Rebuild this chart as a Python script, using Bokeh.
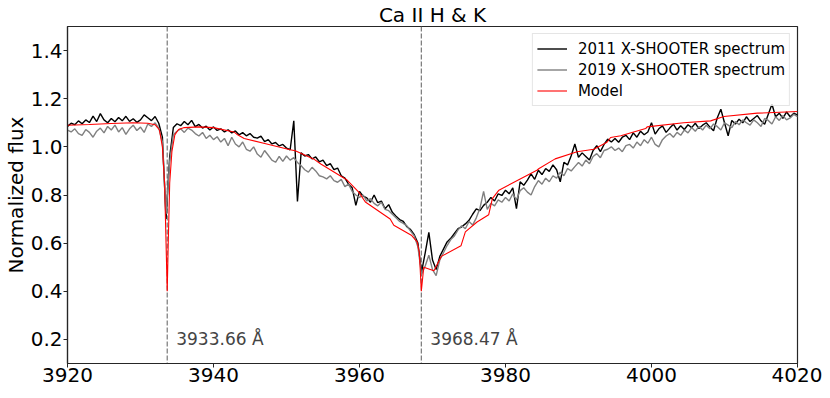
import numpy as np
from bokeh.plotting import figure
from bokeh.models import Range1d, FixedTicker, Span, Label, PrintfTickFormatter, ColumnDataSource
from bokeh.embed import file_html
from bokeh.resources import INLINE

# ---- data ----
wave_start, wave_stop, wave_step = 3920.0, 4020.0, 0.5

flux_2011 = [
    1.085, 1.098, 1.092, 1.108, 1.096, 1.112, 1.101, 1.128, 1.105, 1.138,
    1.112, 1.100, 1.118, 1.104, 1.122, 1.108, 1.127, 1.106, 1.117, 1.102,
    1.112, 1.133, 1.121, 1.109, 1.126, 1.098, 1.040, 0.700, 0.960, 1.080,
    1.096, 1.088, 1.105, 1.092, 1.110, 1.084, 1.093, 1.078, 1.086, 1.070,
    1.083, 1.068, 1.075, 1.062, 1.071, 1.058, 1.066, 1.050, 1.059, 1.046,
    1.055, 1.040, 1.036, 1.045, 1.022, 1.030, 1.012, 1.018, 1.004, 1.010,
    0.995, 0.988, 1.108, 0.773, 0.975, 0.962, 0.968, 0.950, 0.958, 0.938,
    0.945, 0.922, 0.930, 0.905, 0.912, 0.880, 0.870, 0.845, 0.830, 0.757,
    0.815, 0.795, 0.788, 0.770, 0.800, 0.768, 0.775, 0.743, 0.760, 0.728,
    0.712, 0.698, 0.690, 0.668, 0.656, 0.635, 0.600, 0.480, 0.560, 0.645,
    0.530, 0.490, 0.545, 0.575, 0.605, 0.620, 0.640, 0.660, 0.668, 0.680,
    0.695, 0.720, 0.742, 0.735, 0.757, 0.770, 0.790, 0.775, 0.805, 0.798,
    0.820, 0.805, 0.830, 0.743, 0.855, 0.840, 0.862, 0.888, 0.865, 0.903,
    0.885, 0.910, 0.898, 0.925, 0.905, 0.855, 0.936, 0.925, 0.963, 1.012,
    0.957, 0.975, 0.960, 0.945, 0.985, 1.005, 0.980, 1.010, 1.032, 1.020,
    1.035, 1.019, 1.040, 1.048, 1.030, 1.058, 1.040, 1.065, 1.050, 1.062,
    1.100, 1.053, 1.075, 1.087, 1.060, 1.078, 1.094, 1.070, 1.088, 1.072,
    1.092, 1.080, 1.098, 1.076, 1.090, 1.100, 1.082, 1.067, 1.120, 1.156,
    1.100, 1.046, 1.110, 1.095, 1.115, 1.100, 1.125, 1.105, 1.118, 1.130,
    1.108, 1.094, 1.135, 1.177, 1.125, 1.140, 1.118, 1.145, 1.125, 1.140,
    1.132,
]

flux_2019 = [
    1.070, 1.062, 1.075, 1.055, 1.048, 1.072, 1.060, 1.040, 1.065, 1.078,
    1.058, 1.085, 1.070, 1.090, 1.062, 1.080, 1.052, 1.075, 1.090, 1.068,
    1.082, 1.060, 1.095, 1.085, 1.100, 1.078, 1.020, 0.720, 0.940, 1.050,
    1.065, 1.075, 1.060, 1.078, 1.070, 1.055, 1.045, 1.060, 1.035, 1.048,
    1.030, 1.042, 1.020, 1.035, 1.005, 1.040, 1.012, 1.000, 1.020, 0.990,
    0.982, 1.000, 0.970, 0.957, 0.985, 0.965, 0.945, 0.936, 0.960, 0.940,
    0.962, 0.945, 0.955, 0.935, 0.922, 0.905, 0.895, 0.915, 0.900, 0.880,
    0.875, 0.867, 0.880, 0.860, 0.853, 0.865, 0.835, 0.845, 0.815, 0.800,
    0.790, 0.800, 0.775, 0.785, 0.765, 0.755, 0.770, 0.740, 0.735, 0.720,
    0.705, 0.690, 0.682, 0.672, 0.650, 0.630, 0.585, 0.470, 0.505, 0.550,
    0.490, 0.465, 0.530, 0.560, 0.590, 0.615, 0.630, 0.655, 0.672, 0.660,
    0.690, 0.675, 0.705, 0.745, 0.815, 0.740, 0.765, 0.755, 0.780, 0.770,
    0.790, 0.775, 0.805, 0.780, 0.818, 0.830, 0.812, 0.800, 0.835, 0.860,
    0.845, 0.870, 0.855, 0.880, 0.870, 0.895, 0.880, 0.910, 0.900, 0.918,
    0.935, 0.920, 0.945, 0.930, 0.960, 0.972, 0.955, 0.985, 0.990, 1.000,
    0.985, 0.995, 0.980, 1.005, 1.010, 0.995, 1.020, 1.005, 1.030, 1.015,
    1.040, 1.010, 1.000, 1.030, 1.045, 1.055, 1.040, 1.060, 1.048, 1.070,
    1.058, 1.080, 1.065, 1.085, 1.070, 1.090, 1.075, 1.095, 1.085, 1.070,
    1.100, 1.090, 1.080, 1.105, 1.092, 1.112, 1.100, 1.090, 1.112, 1.100,
    1.085, 1.118, 1.110, 1.095, 1.125, 1.110, 1.130, 1.112, 1.120, 1.135,
    1.125,
]

model_wave = [
    3920, 3923, 3926, 3929, 3931, 3932, 3932.6, 3933.0, 3933.3, 3933.5,
    3933.66, 3933.8, 3934.0, 3934.3, 3934.7, 3935.2, 3936, 3938, 3940, 3942.8,
    3943.3, 3944.2, 3947.3, 3950.5, 3951.2, 3953.7, 3954.7, 3958.3, 3959.9, 3960.8,
    3964.2, 3964.7, 3967.1, 3967.9, 3968.2, 3968.47, 3968.8, 3970.2, 3971.2, 3973.9,
    3974.5, 3976.1, 3977.7, 3978.2, 3979.1, 3984.3, 3984.6, 3986.8, 3989.8, 3992.1,
    3993.9, 3994.4, 3995.8, 3999.2, 3999.4, 4004.4, 4008.1, 4009.9, 4014.5, 4020,
]
model_flux = [
    1.090, 1.093, 1.097, 1.100, 1.098, 1.092, 1.070, 1.000, 0.850, 0.600,
    0.400, 0.600, 0.850, 0.980, 1.050, 1.072, 1.080, 1.083, 1.080, 1.062,
    1.050, 1.035, 1.012, 0.988, 0.984, 0.950, 0.929, 0.862, 0.812, 0.771,
    0.700, 0.674, 0.633, 0.605, 0.560, 0.400, 0.500, 0.485, 0.545, 0.589,
    0.647, 0.688, 0.718, 0.785, 0.820, 0.903, 0.910, 0.950, 0.980, 0.990,
    1.019, 1.039, 1.046, 1.076, 1.083, 1.100, 1.108, 1.126, 1.140, 1.147,
]

line_centers = [3933.66, 3968.47]
x_ticks = [3920, 3940, 3960, 3980, 4000, 4020]
y_ticks = [0.2, 0.4, 0.6, 0.8, 1.0, 1.2, 1.4]

wave = np.round(np.arange(wave_start, wave_stop + wave_step / 2, wave_step), 2)
assert len(wave) == len(flux_2011) == len(flux_2019)

FONT = "DejaVu Sans"
AXC = "#262626"

p = figure(frame_width=730, frame_height=337, output_backend="svg", toolbar_location=None,
           x_range=Range1d(3920, 4020), y_range=Range1d(0.1, 1.5),
           title="Ca II H & K",
           min_border_left=0, min_border_right=25, min_border_top=0, min_border_bottom=28)

p.title.align = "center"
p.title.text_font = FONT
p.title.text_font_size = "20px"
p.title.text_font_style = "normal"
p.title.text_color = "black"
p.title.standoff = 0
p.title.offset = 0

for ln in line_centers:
    p.add_layout(Span(location=ln, dimension="height", line_color="#777777",
                      line_dash="5 2", line_width=1.2, level="underlay"))
    p.add_layout(Label(x=ln, y=0.2, x_offset=9, text=f"{ln:.2f} Å",
                       text_font=FONT, text_font_size="17px", text_color="#444444",
                       text_baseline="alphabetic"))

src = ColumnDataSource(dict(w=wave, f11=flux_2011, f19=flux_2019))
p.line("w", "f11", source=src, line_color="black", line_width=1.4,
       legend_label="2011 X-SHOOTER spectrum")
p.line("w", "f19", source=src, line_color="#808080", line_width=1.4,
       legend_label="2019 X-SHOOTER spectrum")
p.line(model_wave, model_flux, line_color="red", line_width=1.1,
       legend_label="Model")

p.xgrid.visible = False
p.ygrid.visible = False
p.outline_line_color = AXC
p.outline_line_width = 1.2

for ax in (p.xaxis[0], p.yaxis[0]):
    ax.major_label_text_font = FONT
    ax.major_label_text_font_size = "20px"
    ax.major_label_text_color = "black"
    ax.axis_line_color = AXC
    ax.axis_line_width = 1.2
    ax.major_tick_line_color = AXC
    ax.major_tick_in = 0
    ax.major_tick_out = 4
    ax.minor_tick_line_color = None

p.xaxis.major_label_standoff = 0
p.yaxis.major_label_standoff = 1
p.xaxis.ticker = FixedTicker(ticks=x_ticks)
p.yaxis.ticker = FixedTicker(ticks=y_ticks)
p.yaxis.formatter = PrintfTickFormatter(format="%.1f")
p.yaxis.axis_label = "Normalized flux"
p.yaxis.axis_label_text_font = FONT
p.yaxis.axis_label_text_font_size = "20px"
p.yaxis.axis_label_text_font_style = "normal"
p.yaxis.axis_label_text_color = "black"
p.yaxis.axis_label_standoff = 0

lg = p.legend[0]
lg.location = "top_right"
lg.label_text_font = FONT
lg.label_text_font_size = "15px"
lg.label_text_color = "black"
lg.glyph_width = 30
lg.glyph_height = 21
lg.label_height = 21
lg.label_standoff = 11
lg.spacing = 0
lg.padding = 4
lg.margin = 7
lg.border_line_color = "#cccccc"
lg.border_line_width = 1
lg.background_fill_alpha = 0.8

open("out.html", "w").write(file_html(p, INLINE))
